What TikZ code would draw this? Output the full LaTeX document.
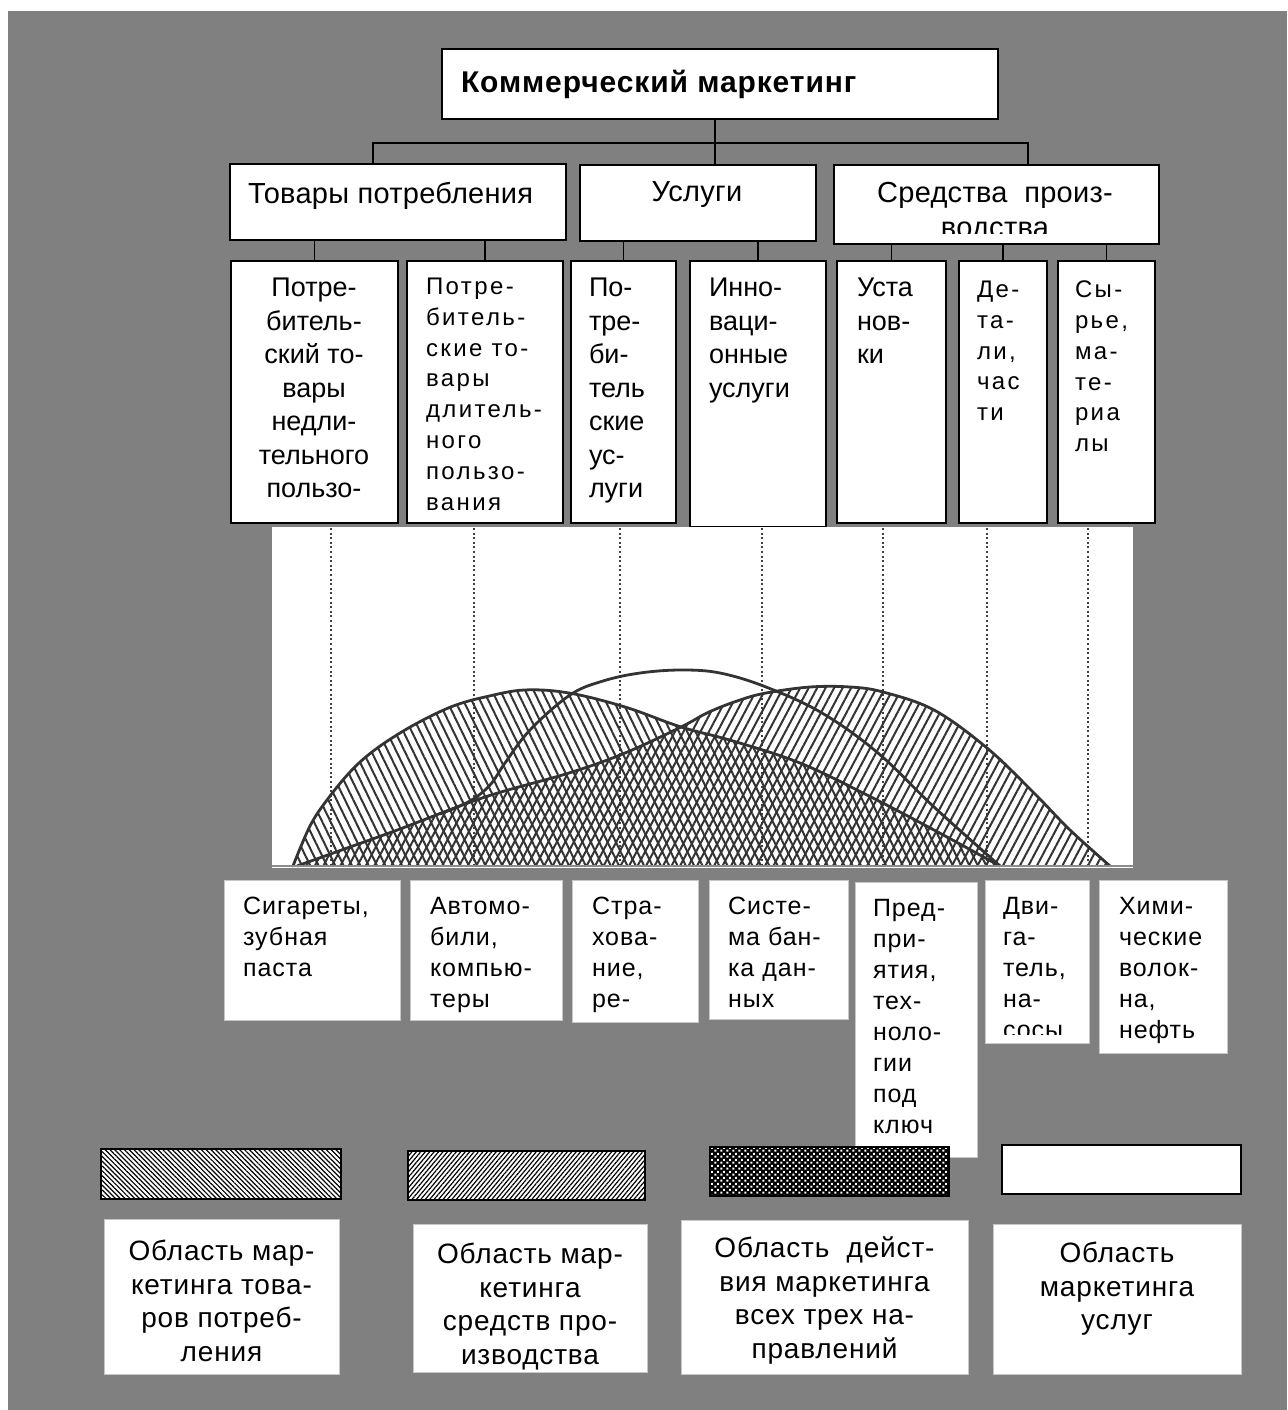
\documentclass[tikz,border=0pt]{standalone}
\usepackage{fontspec}
\setmainfont{Liberation Sans}
\usetikzlibrary{patterns,patterns.meta,calc}

\definecolor{bg}{HTML}{808080}
\definecolor{ink}{HTML}{333333}

% white squares in a checker arrangement (drawn over black)
\pgfdeclarepatternformonly{whitedots}{\pgfqpoint{0pt}{0pt}}{\pgfqpoint{6pt}{6pt}}{\pgfqpoint{6pt}{6pt}}{%
  \pgfpathrectangle{\pgfqpoint{0.5pt}{0.5pt}}{\pgfqpoint{2.3pt}{2.3pt}}%
  \pgfpathrectangle{\pgfqpoint{3.5pt}{3.5pt}}{\pgfqpoint{2.3pt}{2.3pt}}%
  \pgfusepath{fill}}

\newcommand\szTitle{\fontsize{30}{36}\selectfont\bfseries\addfontfeatures{LetterSpace=3}}
\newcommand\szGroup{\fontsize{29}{35}\selectfont\addfontfeatures{LetterSpace=1}}
\newcommand\szCell{\fontsize{27}{33.5}\selectfont}
\newcommand\szNarrow{\fontsize{24}{30.8}\selectfont\addfontfeatures{LetterSpace=10}}
\newcommand\szEx{\fontsize{25}{31}\selectfont\addfontfeatures{LetterSpace=4}}
\newcommand\szLeg{\fontsize{28}{33.5}\selectfont\addfontfeatures{LetterSpace=3}}

\tikzset{
  frame/.style={draw=black, line width=2pt, fill=white, inner sep=0pt, anchor=north west},
  plain/.style={draw=black!22, line width=1pt, fill=white, inner sep=0pt, anchor=north west},
  swatch/.style={draw=black, line width=2pt, inner sep=0pt, anchor=north west},
  conn/.style={draw=black, line width=1.8pt},
  txt/.style={inner sep=0pt, outer sep=0pt, text=black},
  guide/.style={draw=black!75, line width=1.8pt, dash pattern=on 2pt off 2.6pt},
  curve/.style={draw=ink, line width=2.8pt, line join=round, line cap=round},
  hatchL/.style={pattern={Lines[angle=116,distance=7.5pt,line width=2pt]}, pattern color=ink},
  hatchR/.style={pattern={Lines[angle=62,distance=7.5pt,line width=2pt]}, pattern color=ink},
  keyL/.style={preaction={fill=white}, pattern={Lines[angle=-45,distance=3.4pt,line width=1.2pt]}, pattern color=black},
  keyR/.style={preaction={fill=white}, pattern={Lines[angle=50,distance=3.4pt,line width=1.2pt]}, pattern color=black},
  keyX/.style={preaction={fill=black}, pattern=whitedots, pattern color=white},
}

\begin{document}
\begin{tikzpicture}[x=1pt,y=-1pt]
\useasboundingbox (0,0) rectangle (1287,1410);
\fill[white] (0,0) rectangle (1287,1410);
\fill[bg] (8,11) rectangle (1287,1410);

% ---------- hierarchy ----------
\node[frame, minimum width=556pt, minimum height=70pt] (title) at (441,48) {};
\node[txt, anchor=north west, font=\szTitle] (titlet) at (461,70) {Коммерческий маркетинг};

\node[frame, minimum width=336pt, minimum height=76pt] (t1) at (229,163) {};
\node[frame, minimum width=236pt, minimum height=76pt] (t2) at (579,164) {};
\node[frame, minimum width=325pt, minimum height=79pt] (t3) at (833,164) {};
\node[txt, anchor=north west, font=\szGroup] (t1t) at (248,182) {Товары потребления};
\node[txt, anchor=north, font=\szGroup] (t2t) at (697,182) {Услуги};
\begin{scope}
  \clip (t3.north west) rectangle ($(t3.south east)+(0,-12)$);
  \node[txt, anchor=north, align=center, font=\szGroup] (t3t) at (995,182) {Средства\ \ произ-\\водства};
\end{scope}

\coordinate (bus) at (715,143);
\coordinate (d1) at (373,143);
\coordinate (d3) at (1028,143);
\draw[conn] (title.south -| bus) -- (bus);
\draw[conn] (t1.north -| d1) -- (d1) -- (d3) -- (t3.north -| d3);
\draw[conn] (bus) -- (t2.north -| bus);

\node[frame, minimum width=167pt, minimum height=262pt] (s1) at (230,260) {};
\node[frame, minimum width=156pt, minimum height=262pt] (s2) at (406,260) {};
\node[frame, minimum width=105pt, minimum height=262pt] (s3) at (570,260) {};
\node[frame, minimum width=136pt, minimum height=266pt] (s4) at (689,260) {};
\node[frame, minimum width=109pt, minimum height=262pt] (s5) at (836,260) {};
\node[frame, minimum width=88pt, minimum height=262pt] (s6) at (958,260) {};
\node[frame, minimum width=97pt, minimum height=262pt] (s7) at (1057,260) {};

\draw[conn] (t1.south -| s1.north) -- (s1.north);
\draw[conn] (t1.south -| s2.north) -- (s2.north);
\draw[conn] (t2.south -| s3.north) -- (s3.north);
\draw[conn] (t2.south -| s4.north) -- (s4.north);
\draw[conn] (t3.south -| s5.north) -- (s5.north);
\draw[conn] (t3.south -| s6.north) -- (s6.north);
\draw[conn] (t3.south -| s7.north) -- (s7.north);

\node[txt, anchor=north, align=center, font=\szCell] (s1t) at (314,278)
  {Потре-\\битель-\\ский то-\\вары\\недли-\\тельного\\пользо-};
\node[txt, anchor=north west, align=left, font=\szNarrow] (s2t) at (426,278)
  {Потре-\\битель-\\ские то-\\вары\\длитель-\\ного\\пользо-\\вания};
\node[txt, anchor=north west, align=left, font=\szCell] (s3t) at (589,278)
  {По-\\тре-\\би-\\тель\\ские\\ус-\\луги};
\node[txt, anchor=north west, align=left, font=\szCell] (s4t) at (709,278)
  {Инно-\\ваци-\\онные\\услуги};
\node[txt, anchor=north west, align=left, font=\szCell] (s5t) at (857,278)
  {Уста\\нов-\\ки};
\node[txt, anchor=north west, align=left, font=\szNarrow] (s6t) at (977,281)
  {Де-\\та-\\ли,\\час\\ти};
\node[txt, anchor=north west, align=left, font=\szNarrow] (s7t) at (1075,281)
  {Сы-\\рье,\\ма-\\те-\\риа\\лы};

% ---------- chart ----------
\node[inner sep=0pt, fill=white, minimum width=861pt, minimum height=341pt, anchor=north west] (chart) at (272,527) {};
\foreach \gx in {331,474,620,762,883,987,1088}
  \draw[guide] (\gx,528) -- (\gx,865);

% consumer goods area
\path[hatchL] plot[smooth, tension=0.6] coordinates {(293,866) (310,826) (327,800) (350,772) (372,752) (400,733) (429,717) (456,705) (485,697) (524,690) (569,693) (625,707) (681,727) (733,741) (800,763) (867,795) (934,830) (1000,866)} -- cycle;
% means of production area
\path[hatchR] plot[smooth, tension=0.6] coordinates {(297,866) (350,847) (400,829) (485,797) (569,773) (625,753) (681,727) (709,712) (740,700) (766,693) (810,687) (850,687) (883,692) (934,710) (987,748) (1033,792) (1070,830) (1110,866)} -- cycle;

\draw[curve] plot[smooth, tension=0.6] coordinates {(293,866) (310,826) (327,800) (350,772) (372,752) (400,733) (429,717) (456,705) (485,697) (524,690) (569,693) (625,707) (681,727) (733,741) (800,763) (867,795) (934,830) (1000,866)};
\draw[curve] plot[smooth, tension=0.6] coordinates {(297,866) (350,847) (400,829) (485,797) (569,773) (625,753) (681,727) (709,712) (740,700) (766,693) (810,687) (850,687) (883,692) (934,710) (987,748) (1033,792) (1070,830) (1110,866)};
% services curve
\draw[curve] plot[smooth, tension=0.6] coordinates {(440,814) (470,801) (490,785) (505,763) (530,730) (570,695) (603,681) (640,673) (681,670) (720,673) (766,687) (822,713) (878,753) (934,807) (1000,866)};

\draw[black!45, line width=2pt] (chart.south west |- 0,866) -- (chart.south east |- 0,866);

% ---------- examples ----------
\node[plain, minimum width=176pt, minimum height=140pt] (e1) at (224,880) {};
\node[plain, minimum width=152pt, minimum height=140pt] (e2) at (410,880) {};
\node[plain, minimum width=126pt, minimum height=142pt] (e3) at (572,880) {};
\node[plain, minimum width=139pt, minimum height=139pt] (e4) at (709,880) {};
\node[plain, minimum width=122pt, minimum height=275pt] (e5) at (855,882) {};
\node[plain, minimum width=104pt, minimum height=163pt] (e6) at (985,880) {};
\node[plain, minimum width=128pt, minimum height=173pt] (e7) at (1099,880) {};

\node[txt, anchor=north west, align=left, font=\szEx] (e1t) at (243,897) {Сигареты,\\зубная\\паста};
\node[txt, anchor=north west, align=left, font=\szEx] (e2t) at (430,897) {Автомо-\\били,\\компью-\\теры};
\node[txt, anchor=north west, align=left, font=\szEx] (e3t) at (592,897) {Стра-\\хова-\\ние,\\ре-};
\node[txt, anchor=north west, align=left, font=\szEx] (e4t) at (728,897) {Систе-\\ма бан-\\ка дан-\\ных};
\node[txt, anchor=north west, align=left, font=\szEx] (e5t) at (873,899) {Пред-\\при-\\ятия,\\тех-\\ноло-\\гии\\под\\ключ};
\begin{scope}
  \clip (e6.north west) rectangle ($(e6.south east)+(0,-10)$);
  \node[txt, anchor=north west, align=left, font=\szEx] (e6t) at (1003,897) {Дви-\\га-\\тель,\\на-\\сосы};
\end{scope}
\node[txt, anchor=north west, align=left, font=\szEx] (e7t) at (1119,897) {Хими-\\ческие\\волок-\\на,\\нефть};

% ---------- legend ----------
\node[swatch, keyL, minimum width=240pt, minimum height=50pt] (k1) at (100,1148) {};
\node[swatch, keyR, minimum width=237pt, minimum height=49pt] (k2) at (407,1150) {};
\node[swatch, keyX, minimum width=239pt, minimum height=49pt] (k3) at (709,1146) {};
\node[swatch, fill=white, minimum width=239pt, minimum height=49pt] (k4) at (1001,1144) {};

\node[plain, minimum width=235pt, minimum height=155pt] (l1) at (104,1219) {};
\node[plain, minimum width=234pt, minimum height=148pt] (l2) at (413,1224) {};
\node[plain, minimum width=287pt, minimum height=154pt] (l3) at (681,1220) {};
\node[plain, minimum width=248pt, minimum height=150pt] (l4) at (993,1224) {};

\node[txt, anchor=north, align=center, font=\szLeg] (l1t) at (221.5,1240) {Область мар-\\кетинга това-\\ров потреб-\\ления};
\node[txt, anchor=north, align=center, font=\szLeg] (l2t) at (530,1243) {Область мар-\\кетинга\\средств про-\\изводства};
\node[txt, anchor=north, align=center, font=\szLeg] (l3t) at (824.5,1237) {Область\ \ дейст-\\вия маркетинга\\всех трех на-\\правлений};
\node[txt, anchor=north, align=center, font=\szLeg] (l4t) at (1117,1242) {Область\\маркетинга\\услуг};
\end{tikzpicture}
\end{document}
